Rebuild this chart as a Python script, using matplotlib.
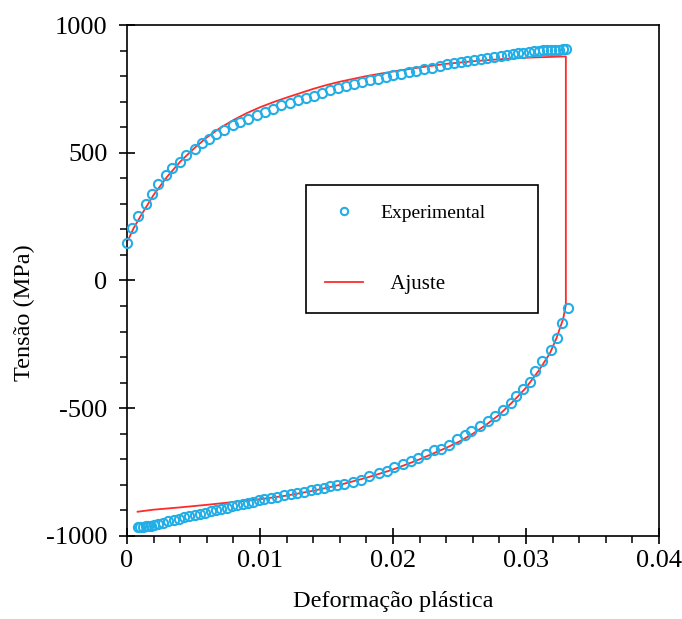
import matplotlib
matplotlib.use('Agg')
import matplotlib.pyplot as plt
from matplotlib.ticker import MultipleLocator

plt.rcParams['font.family'] = ['Liberation Serif', 'DejaVu Serif']
plt.rcParams['axes.unicode_minus'] = False

# experimental loop, loading branch (strain, MPa)
load_strain = [0, 0.0004, 0.00085, 0.0014, 0.00186, 0.00232, 0.00292, 0.00337, 0.0040, 0.00445,
               0.00508, 0.00564, 0.00614, 0.00669, 0.00732, 0.00795, 0.00853, 0.00911, 0.00974, 0.01034,
               0.01097, 0.0116, 0.01223, 0.01285, 0.01349, 0.01406, 0.01466, 0.01527, 0.01587, 0.01645,
               0.0171, 0.0177, 0.0183, 0.0189, 0.0195, 0.0200, 0.0206, 0.0212, 0.0217, 0.0223,
               0.0229, 0.0235, 0.0241, 0.0246, 0.0251, 0.0256, 0.0261, 0.0266, 0.0271, 0.0276,
               0.0281, 0.0286, 0.0290, 0.0294, 0.0298, 0.0302, 0.0306, 0.0310, 0.0313, 0.0316,
               0.0319, 0.0322, 0.0325, 0.0328, 0.0330]
load_stress = [145, 206, 254, 300, 339, 378, 411, 441, 465, 490,
               513, 539, 555, 575, 591, 607, 621, 634, 647, 659,
               672, 685, 696, 706, 715, 724, 735, 745, 754, 763,
               771, 777, 783, 790, 796, 803, 809, 815, 821, 827,
               833, 840, 846, 851, 856, 860, 864, 868, 872, 876,
               879, 882, 886, 889, 892, 895, 897, 899, 901, 902,
               903, 904, 904, 905, 905]

# reverse branch
rev_strain = [0.0008, 0.0010, 0.0012, 0.0014, 0.0016, 0.0018, 0.0020, 0.0023, 0.0027, 0.0031,
              0.0035, 0.0039, 0.0043, 0.0047, 0.0051, 0.0055, 0.0059, 0.0063, 0.0067, 0.0071,
              0.0075, 0.0079, 0.0083, 0.0087, 0.0091, 0.0095, 0.0099, 0.0103, 0.0108, 0.0113,
              0.0118, 0.0123, 0.0128, 0.0133, 0.0138, 0.0143, 0.0148, 0.0153, 0.0158, 0.0163,
              0.0170, 0.01758, 0.01821, 0.01897, 0.01955, 0.02010, 0.02073, 0.02136, 0.02186, 0.02249,
              0.02312, 0.02362, 0.02425, 0.02483, 0.02538, 0.02589, 0.02651, 0.02715, 0.02770, 0.02828,
              0.02885, 0.02928, 0.02979, 0.03034, 0.03067, 0.03122, 0.03185, 0.03230, 0.03268, 0.03318]
rev_stress = [-966, -965, -964, -962, -961, -959, -957, -953, -948, -942,
              -937, -932, -927, -922, -918, -914, -909, -904, -899, -894,
              -889, -884, -879, -874, -870, -866, -861, -856, -851, -846,
              -841, -836, -831, -826, -821, -816, -811, -806, -801, -796,
              -789, -779, -766, -753, -744, -731, -720, -707, -694, -681,
              -665, -658, -642, -622, -606, -590, -570, -551, -531, -505,
              -479, -453, -424, -398, -355, -316, -273, -224, -166, -107]

# fitted curve (continuous: loading, jump, reverse)
fit_strain = [0.0001, 0.0005, 0.001, 0.002, 0.003, 0.004, 0.005, 0.006, 0.007, 0.008,
              0.009, 0.010, 0.011, 0.012, 0.013, 0.014, 0.015, 0.016, 0.018, 0.020,
              0.022, 0.024, 0.026, 0.028, 0.030, 0.033, 0.033,
              0.0328, 0.0323, 0.0318, 0.031, 0.030, 0.029, 0.028, 0.027, 0.026,
              0.025, 0.024, 0.022, 0.020, 0.018, 0.016, 0.014, 0.012, 0.010,
              0.008, 0.006, 0.004, 0.002, 0.0008]
fit_stress = [160, 205, 250, 335, 405, 465, 515, 560, 597, 628,
              655, 678, 698, 716, 733, 750, 765, 778, 800, 818,
              834, 848, 858, 866, 872, 877, -95,
              -150, -225, -285, -350, -420, -475, -525, -565, -600,
              -630, -655, -700, -740, -772, -800, -823, -842, -856,
              -867, -878, -888, -897, -905]

xticks = [0, 0.01, 0.02, 0.03, 0.04]
xticklabels = ['0', '0.01', '0.02', '0.03', '0.04']
yticks = [-1000, -500, 0, 500, 1000]
yticklabels = ['-1000', '-500', '0', '500', '1000']

blue = '#22aee6'
fig = plt.figure(figsize=(6.82, 6.19), dpi=100)
ax = fig.add_axes([0.1862, 0.1341, 0.78, 0.8255])

ax.plot(fit_strain, fit_stress, color='#ff2a2a', lw=1.3, label='  Ajuste', zorder=2)
ax.plot(load_strain, load_stress, 'o', ms=6.6, mfc='none', mec=blue, mew=1.5,
        label='Experimental', clip_on=False, zorder=3)
ax.plot(rev_strain, rev_stress, 'o', ms=6.6, mfc='none', mec=blue, mew=1.5,
        clip_on=False, zorder=3)

ax.set_xlim(0, 0.04)
ax.set_ylim(-1000, 1000)
ax.set_xticks(xticks)
ax.set_xticklabels(xticklabels)
ax.set_yticks(yticks)
ax.set_yticklabels(yticklabels)
ax.xaxis.set_minor_locator(MultipleLocator(0.002))
ax.yaxis.set_minor_locator(MultipleLocator(100))
ax.tick_params(which='major', direction='inout', length=12, width=1.2, labelsize=19)
ax.tick_params(axis='y', which='major', pad=8)
ax.tick_params(axis='x', which='major', pad=4)
ax.tick_params(which='minor', direction='out', length=5, width=1.1)
for s in ax.spines.values():
    s.set_linewidth(1.2)

ax.set_xlabel('Deformação plástica', fontsize=17.5, labelpad=14)
ax.set_ylabel('Tensão (MPa)', fontsize=17.5)
ax.yaxis.set_label_coords(-0.173, 0.438)

# legend order: Experimental first
h, l = ax.get_legend_handles_labels()
leg = ax.legend([h[1], h[0]], [l[1], l[0]], loc='lower left',
                bbox_to_anchor=(0.336, 0.436, 0.437, 0.255), mode='expand',
                borderaxespad=0, fontsize=14, frameon=True, fancybox=False,
                framealpha=1, edgecolor='black', handlelength=1.96,
                handletextpad=0.9, labelspacing=2.7, borderpad=1.0,
                markerscale=0.8)
leg.get_frame().set_linewidth(1.2)
leg.get_texts()[1].set_fontsize(15)

fig.savefig('out.png', dpi=100)
